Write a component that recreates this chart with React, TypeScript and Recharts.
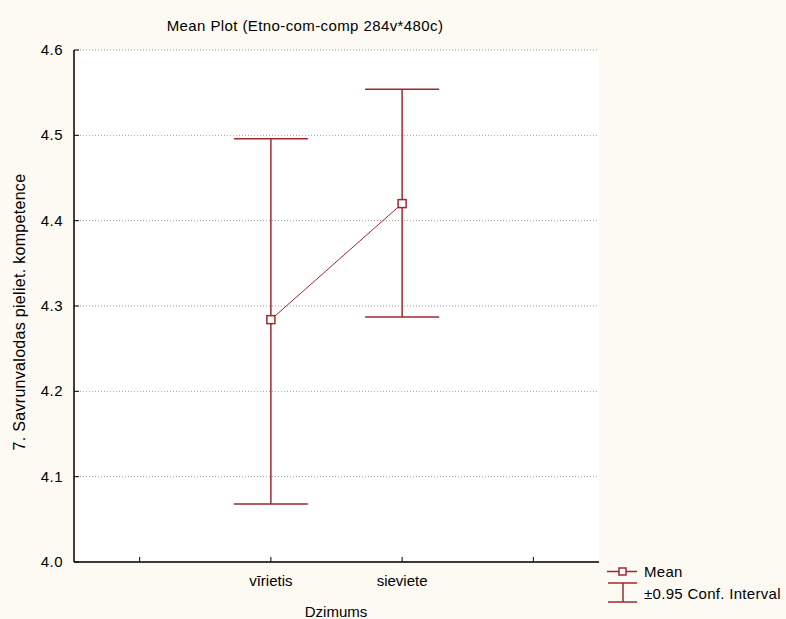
import React from "react";
import {
  ComposedChart,
  Line,
  ErrorBar,
  XAxis,
  YAxis,
  CartesianGrid,
} from "recharts";

const categories = ["", "vīrietis", "sieviete", " "];
const means = [null, 4.284, 4.42, null];
const ciLow = [null, 4.068, 4.287, null];
const ciHigh = [null, 4.496, 4.554, null];
const yTicks = [4.0, 4.1, 4.2, 4.3, 4.4, 4.5, 4.6];

const RED = "#9c2a30";
const FONT = "'Liberation Sans', Arial, sans-serif";

const data = categories.map((name, i) => ({
  name,
  mean: means[i],
  ci:
    means[i] == null
      ? null
      : [(means[i] as number) - (ciLow[i] as number), (ciHigh[i] as number) - (means[i] as number)],
}));

const BottomTick = (props: any) => {
  const { x, y, payload } = props;
  return (
    <g>
      <line x1={x} y1={y} x2={x} y2={y - 5} stroke="#000" />
      <text x={x} y={y + 24} textAnchor="middle" fontSize={15} fill="#000" fontFamily={FONT}>
        {payload.value.trim()}
      </text>
    </g>
  );
};

const TopTick = (props: any) => {
  const { x, y } = props;
  return <line x1={x} y1={y} x2={x} y2={y + 5} stroke="#000" />;
};

const LeftTick = (props: any) => {
  const { x, y, payload } = props;
  return (
    <g>
      <line x1={x} y1={y} x2={x + 5} y2={y} stroke="#000" />
      <text x={x - 11} y={y + 5} textAnchor="end" fontSize={15} letterSpacing={0.5} fill="#000" fontFamily={FONT}>
        {Number(payload.value).toFixed(1)}
      </text>
    </g>
  );
};

const RightTick = (props: any) => {
  const { x, y } = props;
  return <line x1={x} y1={y} x2={x - 3} y2={y} stroke="#000" />;
};

const SquareDot = (props: any) => {
  const { cx, cy, index } = props;
  if (cx == null || cy == null || means[index] == null) return <g key={index} />;
  return (
    <rect key={index} x={cx - 4} y={cy - 4} width={8} height={8} fill="#fff" stroke={RED} strokeWidth={1.5} />
  );
};

const LegendBox = () => (
  <div
    style={{
      position: "absolute",
      left: 606,
      top: 561,
      fontFamily: FONT,
      fontSize: 15,
      letterSpacing: 0.3,
      color: "#000",
      lineHeight: "21px",
      whiteSpace: "nowrap",
    }}
  >
    <div style={{ display: "flex", alignItems: "center" }}>
      <svg width={32} height={21}>
        <line x1={1} y1={10.5} x2={31} y2={10.5} stroke={RED} strokeWidth={1.5} />
        <rect x={13} y={7} width={7} height={7} fill="#fff" stroke={RED} strokeWidth={1.5} />
      </svg>
      <span style={{ marginLeft: 6 }}>Mean</span>
    </div>
    <div style={{ display: "flex", alignItems: "center" }}>
      <svg width={32} height={22}>
        <line x1={2} y1={1} x2={31} y2={1} stroke={RED} strokeWidth={1.5} />
        <line x1={17} y1={1} x2={17} y2={20} stroke={RED} strokeWidth={1.5} />
        <line x1={2} y1={20} x2={31} y2={20} stroke={RED} strokeWidth={1.5} />
      </svg>
      <span style={{ marginLeft: 6 }}>±0.95 Conf. Interval</span>
    </div>
  </div>
);

export default function App() {
  return (
    <div
      style={{
        position: "absolute",
        left: 0,
        top: 0,
        width: 786,
        height: 619,
        background: "#fdfaf3",
        overflow: "hidden",
      }}
    >
      <ComposedChart
        width={786}
        height={619}
        data={data}
        margin={{ top: 50, right: 187, bottom: 0, left: 0 }}
        style={{ fontFamily: FONT }}
      >
        <CartesianGrid
          vertical={false}
          stroke="#a0a0a0"
          strokeDasharray="1 2"
          fill="#ffffff"
          fillOpacity={1}
        />
        <XAxis
          dataKey="name"
          scale="band"
          height={57}
          tickSize={0}
          tickMargin={0}
          tick={<BottomTick />}
          axisLine={{ stroke: "#000", strokeWidth: 1.5 }}
          tickLine={false}
          interval={0}
        />
        <XAxis
          xAxisId="top"
          dataKey="name"
          scale="band"
          orientation="top"
          height={0}
          tickSize={0}
          tickMargin={0}
          tick={<TopTick />}
          axisLine={{ stroke: "#333", strokeWidth: 1 }}
          tickLine={false}
          interval={0}
        />
        <YAxis
          width={74}
          domain={[4.0, 4.6]}
          ticks={yTicks}
          tickSize={0}
          tickMargin={0}
          tick={<LeftTick />}
          axisLine={{ stroke: "#000", strokeWidth: 1.5 }}
          tickLine={false}
          allowDataOverflow
        />
        <YAxis
          yAxisId="right"
          orientation="right"
          width={0}
          domain={[4.0, 4.6]}
          ticks={yTicks}
          tickSize={0}
          tickMargin={0}
          tick={<RightTick />}
          axisLine={{ stroke: "#000", strokeWidth: 1.5 }}
          tickLine={false}
          allowDataOverflow
        />
        <Line
          dataKey="mean"
          stroke={RED}
          strokeWidth={1}
          dot={<SquareDot />}
          activeDot={false}
          isAnimationActive={false}
          legendType="none"
        >
          <ErrorBar dataKey="ci" width={37} stroke={RED} strokeWidth={1.5} direction="y" />
        </Line>
        <text x={305} y={31} textAnchor="middle" fontSize={15} letterSpacing={0.4} fill="#000" fontFamily={FONT}>
          Mean Plot (Etno-com-comp 284v*480c)
        </text>
        <text
          x={0}
          y={0}
          transform="translate(25, 312) rotate(-90)"
          textAnchor="middle"
          fontSize={16}
          letterSpacing={0.3}
          fill="#000"
          fontFamily={FONT}
        >
          7. Savrunvalodas pieliet. kompetence
        </text>
        <text x={336} y={617} textAnchor="middle" fontSize={15} fill="#000" fontFamily={FONT}>
          Dzimums
        </text>
      </ComposedChart>
      <LegendBox />
    </div>
  );
}
